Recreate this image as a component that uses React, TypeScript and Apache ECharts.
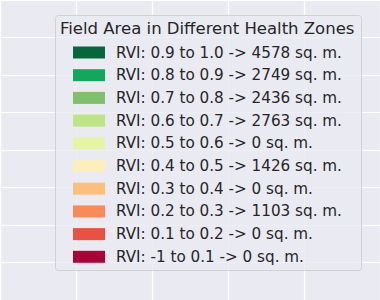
import React, { useEffect, useRef } from "react";
import * as echarts from "echarts";

const legendTitle = "Field Area in Different Health Zones";
const rviRanges = [
  "0.9 to 1.0",
  "0.8 to 0.9",
  "0.7 to 0.8",
  "0.6 to 0.7",
  "0.5 to 0.6",
  "0.4 to 0.5",
  "0.3 to 0.4",
  "0.2 to 0.3",
  "0.1 to 0.2",
  "-1 to 0.1",
];
const areas = [4578, 2749, 2436, 2763, 0, 1426, 0, 1103, 0, 0];
const zoneColors = [
  "#05683a",
  "#12a75b",
  "#80bf6b",
  "#bee585",
  "#e6f4a3",
  "#feeeba",
  "#fdbf7d",
  "#fa8b59",
  "#ea5140",
  "#ab0335",
];

const FONT = "DejaVu Sans";

export default function App() {
  const ref = useRef<HTMLDivElement>(null);
  useEffect(() => {
    if (!ref.current) return;
    const chart = echarts.init(ref.current, null, { renderer: "svg" });
    const names = rviRanges.map((r, i) => `RVI: ${r} -> ${areas[i]} sq. m.`);
    const series = names.map((n, i) => ({
      type: "scatter",
      name: n,
      data: [] as number[][],
      itemStyle: { color: zoneColors[i], opacity: 1 },
    }));
    chart.setOption({
      animation: false,
      backgroundColor: "#eaeaf2",
      grid: {
        left: -60.7,
        top: -38.2,
        width: 448.5,
        height: 361.4,
        show: false,
        containLabel: false,
      },
      xAxis: {
        type: "value",
        min: 0,
        max: 5,
        interval: 1,
        axisLabel: { show: false },
        axisLine: { show: false },
        axisTick: { show: false },
        splitLine: { show: true, lineStyle: { color: "#ffffff", width: 1.2 } },
      },
      yAxis: {
        type: "value",
        min: 0,
        max: 8,
        interval: 1,
        axisLabel: { show: false },
        axisLine: { show: false },
        axisTick: { show: false },
        splitLine: { show: true, lineStyle: { color: "#ffffff", width: 1.2 } },
      },
      graphic: [
        {
          type: "rect",
          z: 50,
          shape: { x: 55.5, y: 15.5, width: 306, height: 255, r: 3 },
          style: {
            fill: "rgba(234,234,242,0.8)",
            stroke: "rgba(204,204,204,0.85)",
            lineWidth: 1,
          },
        },
        {
          type: "text",
          z: 51,
          x: 60,
          y: 28,
          style: {
            text: legendTitle,
            fill: "#262626",
            font: `16.5px "${FONT}"`,
            textVerticalAlign: "middle",
            textAlign: "left",
          },
        },
      ],
      legend: {
        z: 60,
        orient: "vertical",
        left: 73,
        top: 44.5,
        padding: 0,
        itemWidth: 32,
        itemHeight: 12,
        itemGap: 6.7,
        icon: "rect",
        selectedMode: false,
        data: names,
        itemStyle: { opacity: 1, borderWidth: 0 },
        textStyle: {
          fontFamily: FONT,
          fontSize: 15.2,
          lineHeight: 16,
          color: "#262626",
          padding: [0, 0, 0, 6],
        },
      },
      series,
    });
    return () => chart.dispose();
  }, []);
  return (
    <div
      ref={ref}
      style={{ position: "fixed", left: 0, top: 0, width: 380, height: 300 }}
    />
  );
}
